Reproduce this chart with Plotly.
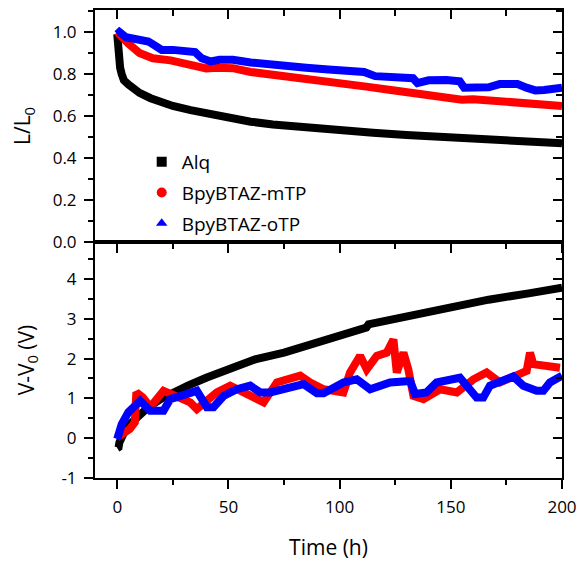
import plotly.graph_objects as go

# ---------------- data ----------------
series_names = ["Alq", "BpyBTAZ-mTP", "BpyBTAZ-oTP"]
series_colors = ["#000000", "#ff0000", "#0000ff"]
series_symbols = ["square", "circle", "triangle-up"]

# top panel: L/L0 vs time
alq_t = [0, 0.3, 0.7, 1.3, 2, 3, 5, 7, 10, 15, 20, 25, 33, 40, 50, 60, 70, 80, 90, 100,
         115, 130, 140, 150, 165, 180, 190, 200]
alq_L = [0.99, 0.92, 0.87, 0.83, 0.80, 0.77, 0.75, 0.73, 0.71, 0.685, 0.665, 0.648, 0.628,
         0.612, 0.593, 0.573, 0.56, 0.55, 0.54, 0.532, 0.52, 0.51, 0.505, 0.50, 0.492, 0.485,
         0.479, 0.47]

mtp_t = [0, 2, 5, 10, 16, 24, 31, 36, 40, 45, 52, 60, 70, 78, 90, 100, 112, 123, 130, 138,
         148, 155, 160, 168, 176, 185, 192, 200]
mtp_L = [1.0, 0.975, 0.945, 0.9, 0.875, 0.865, 0.851, 0.84, 0.827, 0.83, 0.828, 0.81, 0.798,
         0.787, 0.77, 0.757, 0.74, 0.724, 0.712, 0.7, 0.688, 0.678, 0.68, 0.673, 0.668, 0.662,
         0.657, 0.648]

otp_t = [0, 1, 4, 8, 11, 14, 17, 20, 25, 30, 35, 38, 42, 46, 52, 60, 68, 75, 85, 95, 105,
         111, 116, 125, 133, 135, 140, 148, 154, 156, 162, 167, 172, 180, 184, 188, 192, 196, 200]
otp_L = [0.99, 1.0, 0.975, 0.97, 0.965, 0.955, 0.935, 0.915, 0.915, 0.91, 0.905, 0.875, 0.86,
         0.868, 0.868, 0.855, 0.845, 0.835, 0.83, 0.822, 0.815, 0.81, 0.79, 0.787, 0.78, 0.757,
         0.77, 0.772, 0.765, 0.735, 0.732, 0.737, 0.752, 0.752, 0.735, 0.722, 0.724, 0.734, 0.735]

# bottom panel: V-V0 vs time
alq_vt = [0, 0.6, 1, 2, 4, 6.6, 10, 14, 20, 25, 32, 40, 50, 62, 75, 85, 100, 110, 112, 113,
          125, 137, 150, 167, 185, 200]
alq_V = [-0.25, -0.23, -0.1, 0.07, 0.25, 0.4, 0.6, 0.78, 1.0, 1.15, 1.33, 1.52, 1.74, 1.98,
         2.15, 2.32, 2.57, 2.73, 2.78, 2.86, 3.0, 3.15, 3.3, 3.48, 3.64, 3.78]

mtp_vt = [0, 5.6, 7.9, 8.6, 11.6, 14.8, 20.8, 26.8, 32.8, 35.8, 44.8, 50.8, 59.8, 65.8, 71.8,
          82.3, 86.8, 92.8, 101.7, 104.7, 109.2, 112.2, 116.7, 121.2, 124.2, 125.7, 128.7,
          130.9, 133.2, 137.7, 145.2, 152.7, 160.2, 166.1, 172.1, 179.6, 184.1, 185.6, 187.1,
          199.1]
mtp_V = [0.02, 0.23, 0.4, 1.15, 1.02, 0.78, 1.19, 1.06, 0.9, 0.73, 1.15, 1.32, 1.06, 0.9, 1.4,
         1.57, 1.4, 1.23, 1.15, 1.65, 2.07, 1.73, 2.07, 2.15, 2.48, 1.65, 2.15, 1.73, 1.06, 0.98,
         1.23, 1.15, 1.48, 1.65, 1.4, 1.57, 1.69, 2.15, 1.86, 1.77]

otp_vt = [0, 2, 5, 10.3, 14.8, 20.8, 23.8, 32.8, 35.8, 40.3, 43.3, 47.8, 53.8, 59.8, 64.3,
          68.8, 77.8, 83.8, 89.8, 92.8, 101.7, 107.7, 113.7, 122.7, 131.7, 133.9, 139.1, 143.6,
          154.1, 158.6, 161.6, 164.6, 167.6, 178.1, 182.6, 188.6, 191.6, 194.6, 200]
otp_V = [-0.02, 0.35, 0.65, 0.94, 0.69, 0.69, 0.98, 1.15, 1.19, 0.78, 0.78, 1.06, 1.23, 1.32,
         1.15, 1.15, 1.27, 1.36, 1.13, 1.13, 1.40, 1.48, 1.23, 1.40, 1.44, 1.11, 1.15, 1.40,
         1.52, 1.23, 1.02, 1.02, 1.32, 1.55, 1.32, 1.19, 1.19, 1.40, 1.57]

# tick labels
x_ticks = [0, 50, 100, 150, 200]
x_ticklabels = ["0", "50", "100", "150", "200"]
y1_ticks = [0.0, 0.2, 0.4, 0.6, 0.8, 1.0]
y1_ticklabels = ["0.0", "0.2", "0.4", "0.6", "0.8", "1.0"]
y2_ticks = [-1, 0, 1, 2, 3, 4]
y2_ticklabels = ["-1", "0", "1", "2", "3", "4"]

top_series = [(alq_t, alq_L), (mtp_t, mtp_L), (otp_t, otp_L)]
bot_series = [(alq_vt, alq_V), (mtp_vt, mtp_V), (otp_vt, otp_V)]

FONT = "Open Sans"
LW = 8
fig = go.Figure()

for i, name in enumerate(series_names):
    t, v = top_series[i]
    fig.add_trace(go.Scatter(x=t, y=v, mode="lines",
                             line=dict(color=series_colors[i], width=LW),
                             xaxis="x", yaxis="y", showlegend=False, hoverinfo="skip"))

for i, name in enumerate(series_names):
    t, v = bot_series[i]
    fig.add_trace(go.Scatter(x=t, y=v, mode="lines",
                             line=dict(color=series_colors[i], width=LW),
                             xaxis="x2", yaxis="y2", showlegend=False, hoverinfo="skip"))

# legend entries (symbol keys only)
for i, name in enumerate(series_names):
    fig.add_trace(go.Scatter(x=[None], y=[None], mode="markers",
                             marker=dict(symbol=series_symbols[i], size=10,
                                         color=series_colors[i]),
                             name=name, legendgroup=name, xaxis="x", yaxis="y"))

# empty helper traces so the mirrored (inside-tick) axes get drawn
fig.add_trace(go.Scatter(x=[], y=[], xaxis="x3", yaxis="y3", showlegend=False))
fig.add_trace(go.Scatter(x=[], y=[], xaxis="x4", yaxis="y4", showlegend=False))

XR = [-10, 200]
Y1R = [0, 1.105]
Y2R = [-1, 4.93]
SPLIT = 0.5043

tickfont = dict(family=FONT, size=17, color="black")
titlefont = dict(family=FONT, size=21, color="black")


def minor(kind, dt, ln):
    return dict(ticks=kind, dtick=dt, tick0=0, ticklen=ln, tickwidth=2, tickcolor="black")


def base_axis(**kw):
    d = dict(showgrid=False, zeroline=False, tickcolor="black", tickwidth=2, ticklen=9,
             linecolor="black", linewidth=2, tickfont=tickfont, automargin=False)
    d.update(kw)
    return d


fig.update_layout(
    width=579, height=562,
    margin=dict(l=95, r=17, t=10, b=84),
    paper_bgcolor="white", plot_bgcolor="white",
    font=dict(family=FONT, color="black"),
    xaxis=base_axis(domain=[0, 1], anchor="y", range=XR, tickmode="array", tickvals=x_ticks,
                    ticktext=x_ticklabels, ticks="outside", showticklabels=False,
                    showline=True, mirror=True, minor=minor("outside", 25, 5)),
    xaxis3=base_axis(overlaying="x", side="top", anchor="y", range=XR, tickmode="array",
                     tickvals=x_ticks, ticks="inside", showticklabels=False, showline=False,
                     minor=minor("inside", 25, 6)),
    yaxis=base_axis(domain=[SPLIT, 1], anchor="x", range=Y1R, tickmode="array",
                    tickvals=y1_ticks, ticktext=y1_ticklabels, ticks="outside",
                    ticklabelstandoff=4, showline=True, mirror=True,
                    minor=minor("outside", 0.1, 5),
                    title=dict(text="L/L<sub>0</sub>", font=titlefont, standoff=16)),
    yaxis3=base_axis(overlaying="y", side="right", anchor="x", range=Y1R, tickmode="array",
                     tickvals=y1_ticks, ticks="inside", showticklabels=False, showline=False,
                     minor=minor("inside", 0.1, 6)),
    xaxis2=base_axis(domain=[0, 1], anchor="y2", range=XR, tickmode="array", tickvals=x_ticks,
                     ticktext=x_ticklabels, ticks="outside", ticklabelstandoff=4,
                     showticklabels=True, showline=True, mirror=True,
                     minor=minor("outside", 25, 5),
                     title=dict(text="Time (h)", font=titlefont, standoff=23)),
    xaxis4=base_axis(overlaying="x2", side="top", anchor="y2", range=XR, tickmode="array",
                     tickvals=x_ticks, ticks="inside", showticklabels=False, showline=False,
                     minor=minor("inside", 25, 6)),
    yaxis2=base_axis(domain=[0, SPLIT], anchor="x2", range=Y2R, tickmode="array",
                     tickvals=y2_ticks, ticktext=y2_ticklabels, ticks="outside",
                     ticklabelstandoff=4, showline=True, mirror=True,
                     minor=minor("outside", 0.5, 5),
                     title=dict(text="V-V<sub>0</sub> (V)", font=titlefont, standoff=21)),
    yaxis4=base_axis(overlaying="y2", side="right", anchor="x2", range=Y2R, tickmode="array",
                     tickvals=y2_ticks, ticks="inside", showticklabels=False, showline=False,
                     minor=minor("inside", 0.5, 6)),
    legend=dict(x=0.1, xanchor="left", y=0.716, yanchor="top",
                bgcolor="rgba(0,0,0,0)", borderwidth=0,
                font=dict(family=FONT, size=19, color="black"),
                traceorder="grouped", tracegroupgap=3),
    showlegend=True,
)

fig.write_html("out.html")
